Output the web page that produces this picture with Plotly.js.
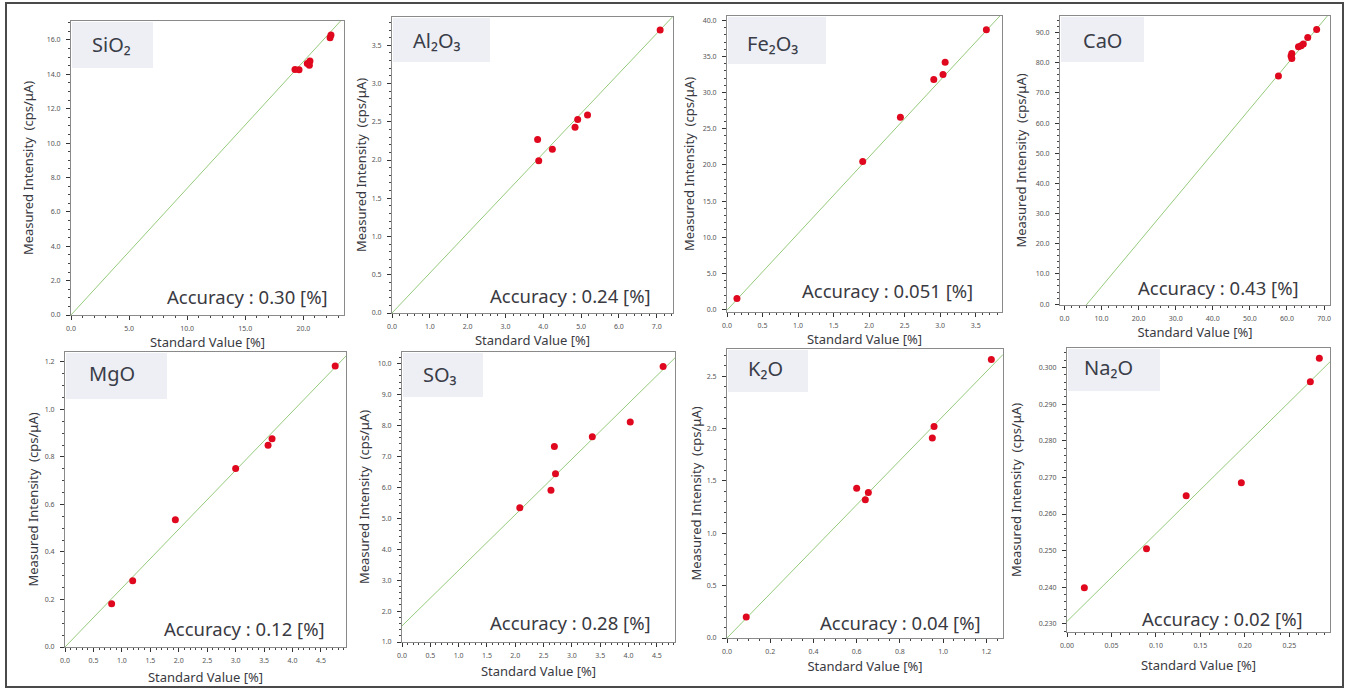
<!DOCTYPE html>
<html><head><meta charset="utf-8">
<script src="https://cdn.plot.ly/plotly-3.0.1.min.js"></script>
<style>html,body{margin:0;padding:0;background:#fff}#chart{width:1349px;height:690px}</style>
</head><body><div id="chart"></div>
<script>
// ---------------- DATA ----------------
const oxideLabels = ['SiO₂', 'Al₂O₃', 'Fe₂O₃', 'CaO', 'MgO', 'SO₃', 'K₂O', 'Na₂O'];
const accuracyValues = ['0.30', '0.24', '0.051', '0.43', '0.12', '0.28', '0.04', '0.02'];

const sio2Standard  = [19.28, 19.63, 20.34, 20.57, 20.52, 22.30, 22.38];
const sio2Measured  = [14.28, 14.26, 14.63, 14.77, 14.53, 16.12, 16.28];
const al2o3Standard = [3.85, 3.88, 4.24, 4.84, 4.91, 5.17, 7.09];
const al2o3Measured = [2.27, 1.99, 2.14, 2.43, 2.53, 2.59, 3.70];
const fe2o3Standard = [0.14, 1.91, 2.44, 2.91, 3.04, 3.07, 3.65];
const fe2o3Measured = [1.52, 20.46, 26.6, 31.8, 32.5, 34.2, 38.7];
const caoStandard   = [57.7, 61.1, 61.3, 61.3, 63.1, 63.8, 64.4, 65.6, 68.0];
const caoMeasured   = [75.6, 82.2, 83.1, 81.4, 85.3, 85.6, 86.2, 88.4, 91.0];
const mgoStandard   = [0.82, 1.19, 1.94, 3.00, 3.57, 3.64, 4.75];
const mgoMeasured   = [0.182, 0.279, 0.536, 0.751, 0.849, 0.877, 1.183];
const so3Standard   = [2.08, 2.63, 2.69, 2.71, 3.36, 4.03, 4.61];
const so3Measured   = [5.34, 5.90, 7.32, 6.44, 7.63, 8.11, 9.90];
const k2oStandard   = [0.089, 0.60, 0.64, 0.654, 0.95, 0.958, 1.223];
const k2oMeasured   = [0.20, 1.43, 1.32, 1.39, 1.91, 2.02, 2.66];
const na2oStandard  = [0.0195, 0.0894, 0.134, 0.196, 0.2736, 0.2837];
const na2oMeasured  = [0.2399, 0.2505, 0.265, 0.2685, 0.2961, 0.3025];

// calibration line: measured = slope * standard + intercept
const calibSlope     = [0.737, 0.522, 10.6, 1.474, 0.248, 1.797, 2.12, 0.2395];
const calibIntercept = [0, 0, -0.1, -8.97, 0, 1.52, 0, 0.2307];

// tick labels
const sio2XTicks  = [0, 5, 10, 15, 20];
const sio2YTicks  = [0, 2, 4, 6, 8, 10, 12, 14, 16];
const al2o3XTicks = [0, 1, 2, 3, 4, 5, 6, 7];
const al2o3YTicks = [0, 0.5, 1.0, 1.5, 2.0, 2.5, 3.0, 3.5];
const fe2o3XTicks = [0, 0.5, 1.0, 1.5, 2.0, 2.5, 3.0, 3.5];
const fe2o3YTicks = [0, 5, 10, 15, 20, 25, 30, 35, 40];
const caoXTicks   = [0, 10, 20, 30, 40, 50, 60, 70];
const caoYTicks   = [0, 10, 20, 30, 40, 50, 60, 70, 80, 90];
const mgoXTicks   = [0, 0.5, 1.0, 1.5, 2.0, 2.5, 3.0, 3.5, 4.0, 4.5];
const mgoYTicks   = [0, 0.2, 0.4, 0.6, 0.8, 1.0, 1.2];
const so3XTicks   = [0, 0.5, 1.0, 1.5, 2.0, 2.5, 3.0, 3.5, 4.0, 4.5];
const so3YTicks   = [1, 2, 3, 4, 5, 6, 7, 8, 9, 10];
const k2oXTicks   = [0, 0.2, 0.4, 0.6, 0.8, 1.0, 1.2];
const k2oYTicks   = [0, 0.5, 1.0, 1.5, 2.0, 2.5];
const na2oXTicks  = [0, 0.05, 0.10, 0.15, 0.20, 0.25];
const na2oYTicks  = [0.23, 0.24, 0.25, 0.26, 0.27, 0.28, 0.29, 0.30];

const xTitle = 'Standard Value [%]';
const yTitle = 'Measured Intensity  (cps/μA)';

// ---------------- LAYOUT CONFIG ----------------
const W = 1349, H = 690;
const FONT = 'Noto Sans, Open Sans, sans-serif';
const standards = [sio2Standard, al2o3Standard, fe2o3Standard, caoStandard, mgoStandard, so3Standard, k2oStandard, na2oStandard];
const measured  = [sio2Measured, al2o3Measured, fe2o3Measured, caoMeasured, mgoMeasured, so3Measured, k2oMeasured, na2oMeasured];
const xTicks = [sio2XTicks, al2o3XTicks, fe2o3XTicks, caoXTicks, mgoXTicks, so3XTicks, k2oXTicks, na2oXTicks];
const yTicks = [sio2YTicks, al2o3YTicks, fe2o3YTicks, caoYTicks, mgoYTicks, so3YTicks, k2oYTicks, na2oYTicks];
const xFmt = ['.1f','.1f','.1f','.1f','.1f','.1f','.1f','.2f'];
const yFmt = ['.1f','.1f','.1f','.1f','.1f','.1f','.1f','.3f'];
const xRange = [[0,23.5],[0,7.43],[0,3.87],[-1.2,71.6],[0,4.94],[0,4.82],[0,1.277],[0,0.2957]];
const yRange = [[0,17.1],[0,3.87],[-0.35,40.6],[-0.3,95.5],[0,1.242],[1.0,10.37],[0,2.76],[0.2278,0.3053]];
const xMinor = [1, 0.2, 0.1, 2, 0.1, 0.1, 0.05, 0.01];
const yMinor = [0.5, 0.1, 1, 2, 0.05, 0.2, 0.1, 0.002];
// plot boxes in pixels: [left, right, top, bottom]
const boxes = [[71,344,21,315],[392,673,17,313],[727,1002,16,312],[1060,1330,16,305],
               [65,346,352,647],[402,675,352,642],[727,1003,349,638],[1067,1330,348,632]];
// label boxes [right, bottom], text [x left, y center]
const labelBox = [[153,68],[490,62],[826,64],[1144,62],[167,399],[483,397],[808,392],[1160,391]];
const labelText = [[90,45],[411,40],[745,43],[1081,40],[87,373],[421,374],[746,368],[1082,367]];
const accPos = [[330,297],[653,295],[975,290],[1301,287],[327,628],[653,622],[983,622],[1305,618]];
// distance from axis line to title centre (px)
const xTitleGap = [26, 26, 25, 28, 32, 31, 30, 35];
const yTitleGap = [40, 32, 35, 36, 33, 35, 32, 44];

const px = v => v / W;
const py = v => 1 - v / H;

const traces = [];
const layout = {
  width: W, height: H,
  margin: {l:0, r:0, t:0, b:0},
  paper_bgcolor: '#ffffff',
  plot_bgcolor: 'rgba(0,0,0,0)',
  showlegend: false,
  font: {family: FONT, color: '#333'},
  shapes: [], annotations: []
};

const TITLE_FONT = {size: 13, color: '#3a3a42', family: FONT};

for (let i = 0; i < 8; i++) {
  const s = i === 0 ? '' : String(i + 1);
  const xa = 'x' + s, ya = 'y' + s;
  const [l, r, t, b] = boxes[i];
  const axisCommon = {
    showline: true, linecolor: '#8a8a8a', linewidth: 1, mirror: true,
    ticks: 'outside', ticklen: 4, tickcolor: '#333', tickwidth: 1,
    showgrid: false, zeroline: false, fixedrange: true, automargin: false,
    tickfont: {size: 7, color: '#555', family: FONT},
    minor: {ticks: 'outside', ticklen: 2, tickcolor: '#444', tickwidth: 1, showgrid: false}
  };
  layout['xaxis' + s] = Object.assign({}, axisCommon, {
    domain: [px(l), px(r)], anchor: ya, range: xRange[i],
    tickmode: 'array', tickvals: xTicks[i], tickformat: xFmt[i],
    ticklabelstandoff: 3,
    title: {text: xTitle, font: TITLE_FONT, standoff: xTitleGap[i] - 24},
    minor: Object.assign({}, axisCommon.minor, {dtick: xMinor[i], tick0: 0})
  });
  layout['yaxis' + s] = Object.assign({}, axisCommon, {
    domain: [py(b), py(t)], anchor: xa, range: yRange[i],
    tickmode: 'array', tickvals: yTicks[i], tickformat: yFmt[i],
    ticklabelstandoff: 4,
    title: {text: yTitle, font: TITLE_FONT, standoff: yTitleGap[i] - 30},
    minor: Object.assign({}, axisCommon.minor, {dtick: yMinor[i], tick0: 0})
  });

  // calibration line across the axis range
  const lx = [xRange[i][0], xRange[i][1]];
  traces.push({
    type: 'scatter', mode: 'lines', xaxis: xa, yaxis: ya,
    x: lx, y: lx.map(v => calibSlope[i] * v + calibIntercept[i]),
    line: {color: '#96cb7c', width: 1}, hoverinfo: 'skip'
  });
  traces.push({
    type: 'scatter', mode: 'markers', xaxis: xa, yaxis: ya,
    x: standards[i], y: measured[i],
    marker: {color: '#e0081e', size: 7}
  });

  // label background box
  layout.shapes.push({
    type: 'rect', xref: 'paper', yref: 'paper', layer: 'below',
    x0: px(l + 1), x1: px(labelBox[i][0]), y0: py(labelBox[i][1]), y1: py(t + 1),
    fillcolor: '#edeff5', line: {width: 0}
  });
  layout.annotations.push({
    xref: 'paper', yref: 'paper', x: px(labelText[i][0]), y: py(labelText[i][1]),
    xanchor: 'left', yanchor: 'middle', showarrow: false,
    text: oxideLabels[i], font: {size: 20, color: '#3a3d48', family: FONT}
  });
  layout.annotations.push({
    xref: 'paper', yref: 'paper', x: px(accPos[i][0]), y: py(accPos[i][1]),
    xanchor: 'right', yanchor: 'middle', showarrow: false,
    text: 'Accuracy : ' + accuracyValues[i] + ' [%]', font: {size: 18.5, color: '#3a3a42', family: FONT}
  });
}

// outer frame
layout.shapes.push({
  type: 'rect', xref: 'paper', yref: 'paper', layer: 'above',
  x0: px(6), x1: px(1343), y0: py(687), y1: py(3),
  line: {color: '#4a4a4a', width: 2}, fillcolor: 'rgba(0,0,0,0)'
});

Plotly.newPlot('chart', traces, layout, {displayModeBar: false, staticPlot: true});
</script>
</body></html>
